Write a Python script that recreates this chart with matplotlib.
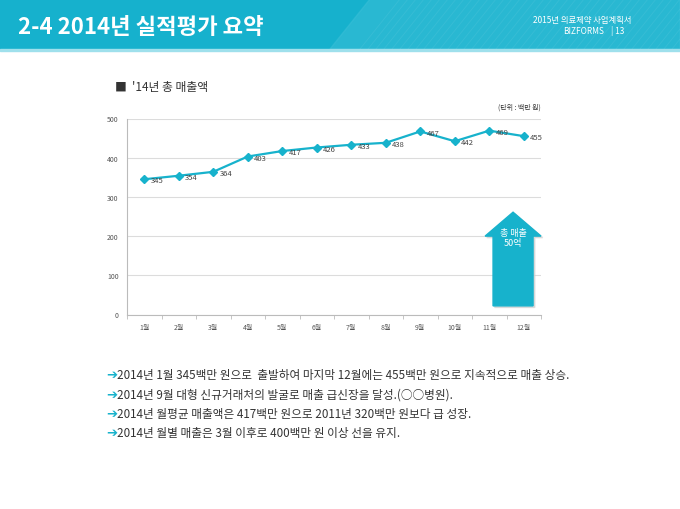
import matplotlib
matplotlib.use('Agg')
import matplotlib.pyplot as plt
from matplotlib.patches import Rectangle, Polygon
import numpy as np

plt.rcParams['font.family'] = ['Noto Sans CJK KR', 'DejaVu Sans']

months = ['1월', '2월', '3월', '4월', '5월', '6월', '7월', '8월', '9월', '10월', '11월', '12월']
sales = [345, 354, 364, 403, 417, 426, 433, 438, 467, 442, 469, 455]
y_ticks = [0, 100, 200, 300, 400, 500]

page_title = '2-4 2014년 실적평가 요약'
doc_name = '2015년 의료제약 사업계획서'
chart_title = "■  '14년 총 매출액"
unit_text = '(단위 : 백만 원)'
arrow_text = '총 매출\n50억'
bullets = [
    '2014년 1월 345백만 원으로  출발하여 마지막 12월에는 455백만 원으로 지속적으로 매출 상승.',
    '2014년 9월 대형 신규거래처의 발굴로 매출 급신장을 달성.(○○병원).',
    '2014년 월평균 매출액은 417백만 원으로 2011년 320백만 원보다 급 성장.',
    '2014년 월별 매출은 3월 이후로 400백만 원 이상 선을 유지.',
]

teal = '#17b2cc'
W, H = 680, 510


def fx(x):
    return x / W


def fy(y):
    return 1 - y / H


fig = plt.figure(figsize=(6.8, 5.1), dpi=100)

# header band
fig.patches.append(Rectangle((0, fy(50)), 1, 50 / H, transform=fig.transFigure,
                             color='#16b1cd', zorder=0))
fig.patches.append(Polygon([(fx(330), fy(50)), (fx(370), fy(0)), (1, fy(0)), (1, fy(50))],
                           closed=True, transform=fig.transFigure,
                           color='#3cc0d8', alpha=0.5, zorder=0))
for k in range(40):
    x0 = 360 + k * 8
    fig.lines.append(plt.Line2D([fx(x0), fx(x0 + 40)], [fy(50), fy(0)],
                                transform=fig.transFigure, color='white',
                                alpha=0.07, lw=0.6))
fig.patches.append(Rectangle((0, fy(52)), 1, 2 / H, transform=fig.transFigure,
                             color='#9fe0ec', zorder=0))

fig.text(fx(18), fy(27), page_title, color='white', fontsize=16, fontweight='bold',
         va='center', ha='left')
fig.text(fx(631), fy(20), doc_name, color='white', fontsize=6, va='center', ha='right')
fig.text(fx(604), fy(31), 'BIZFORMS', color='white', fontsize=6, va='center', ha='right')
fig.text(fx(611), fy(31), '| 13', color='white', fontsize=6, va='center', ha='left')

# chart
ax = fig.add_axes([fx(127), fy(315.5), (541 - 127) / W, (315.5 - 119.5) / H])
x = np.arange(len(months))
ax.plot(x, sales, color=teal, lw=1.6, marker='D', markersize=4.5, zorder=3)
for xi, v in zip(x, sales):
    ax.text(xi + 0.18, v - 3, str(v), fontsize=5.5, color='#444444', va='center',
            ha='left', zorder=4)

ax.set_xlim(-0.5, len(months) - 0.5)
ax.set_ylim(0, 500)
ax.set_yticks(y_ticks)
ax.set_yticklabels([str(t) for t in y_ticks], fontsize=5, color='#555555')
ax.set_xticks(x)
ax.set_xticklabels(months, fontsize=5, color='#555555')
ax.set_xticks(np.arange(len(months) + 1) - 0.5, minor=True)
ax.tick_params(axis='x', which='major', length=0, pad=6)
ax.tick_params(axis='x', which='minor', length=3, color='#bbbbbb')
ax.tick_params(axis='y', length=0, pad=6)
ax.grid(axis='y', color='#dcdcdc', lw=0.8)
ax.set_axisbelow(True)
for s in ['top', 'right']:
    ax.spines[s].set_visible(False)
for s in ['left', 'bottom']:
    ax.spines[s].set_color('#bbbbbb')
    ax.spines[s].set_linewidth(0.8)

# big arrow (decoration)
arrow_pts = [(10.11, 22), (10.11, 200), (9.88, 200), (10.69, 261),
             (11.5, 200), (11.27, 200), (11.27, 22)]
shadow = Polygon([(px + 0.05, py - 4) for px, py in arrow_pts], closed=True,
                 color='#cccccc', alpha=0.6, clip_on=False, zorder=5)
ax.add_patch(shadow)
ax.add_patch(Polygon(arrow_pts, closed=True, color=teal, clip_on=False, zorder=6))
ax.text(10.69, 196, arrow_text, color='white', fontsize=6.5, ha='center', va='center',
        linespacing=1.15, zorder=7)

fig.text(fx(115), fy(87), chart_title, fontsize=8.5, color='#333333', va='center', ha='left')
fig.text(fx(541), fy(108), unit_text, fontsize=5, color='#333333', va='center', ha='right')

# bullet notes
for i, line in enumerate(bullets):
    y = 376 + i * 19.2
    fig.text(fx(106), fy(y), '\u2794', color=teal, fontsize=9.5, va='center', ha='left',
             family='DejaVu Sans')
    fig.text(fx(117), fy(y), line, color='#333333', fontsize=8.4, va='center', ha='left')

fig.savefig('out.png', dpi=100)
